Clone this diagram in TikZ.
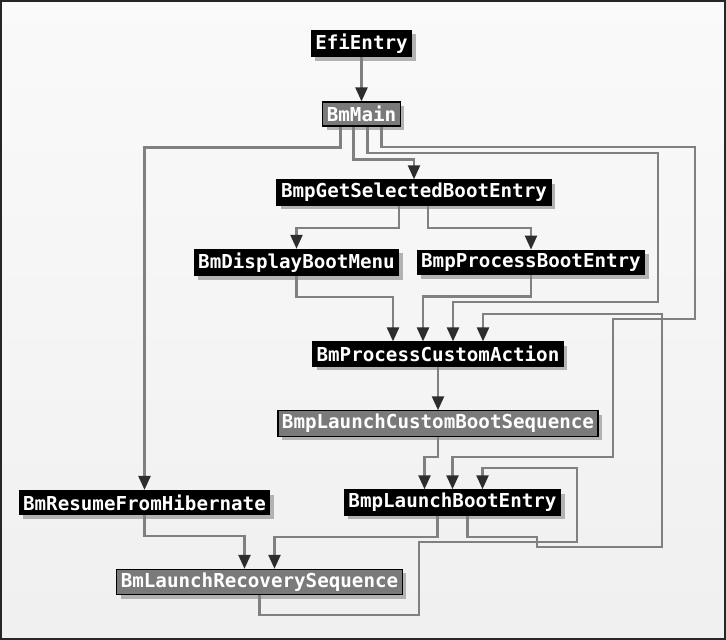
\documentclass[tikz,border=0pt]{standalone}
\usepackage{fontspec}
\newfontfamily\pixelfont{DejaVu Sans Mono}
\usepackage{tikz}
\usetikzlibrary{arrows.meta, shadows}

\definecolor{edgegray}{RGB}{128,128,128}
\definecolor{tipgray}{RGB}{45,45,45}
\definecolor{boxgray}{RGB}{122,122,122}

\begin{document}
\begin{tikzpicture}[
    x=1pt, y=-1pt,
    % Define node style
    func node/.style={
        draw=black, % Draw border
        line width=1.2pt,
        fill=black, % Black box
        text=white, % White text
        rectangle, % Rectangle shape
        minimum height=24pt, % Minimum height
        inner xsep=4pt,
        font=\pixelfont\bfseries\fontsize{19.2}{20}\selectfont,
        drop shadow={shadow xshift=4pt, shadow yshift=-4pt, fill=black!30, opacity=1}
      },
    % Gray box style
    gray node/.style={
        func node,
        fill=boxgray
      },
    % Define arrow style
    edge/.style={
        draw=edgegray,
        line width=2.4pt,
        -{Triangle[width=12pt, length=14pt, color=tipgray, fill=tipgray]}
      }
  ]

  % Background and frame
  \useasboundingbox (0,0) rectangle (726,640);
  \shade[top color=black!2, bottom color=black!6] (0,0) rectangle (726,640);
  \draw[black!85, line width=2.4pt] (1.2,1.2) rectangle (724.8,638.8);

  % Define nodes
  \node[func node] (EfiEntry) at (361.5,43.5) {EfiEntry};
  \node[gray node] (BmMain) at (361.5,114) {BmMain};
  \node[func node] (BmpGetSelectedBootEntry) at (414,192.5) {BmpGetSelectedBootEntry};
  \node[func node] (BmDisplayBootMenu) at (296.5,262.5) {BmDisplayBootMenu};
  \node[func node] (BmpProcessBootEntry) at (531,262.5) {BmpProcessBootEntry};
  \node[func node] (BmProcessCustomAction) at (438,354) {BmProcessCustomAction};
  \node[gray node] (BmpLaunchCustomBootSequence) at (438,423.5) {BmpLaunchCustomBootSequence};
  \node[func node] (BmResumeFromHibernate) at (144.5,502.5) {BmResumeFromHibernate};
  \node[func node] (BmpLaunchBootEntry) at (452.5,502.5) {BmpLaunchBootEntry};
  \node[gray node] (BmLaunchRecoverySequence) at (259.5,582) {BmLaunchRecoverySequence};

  % Draw arrows
  \draw[edge] (EfiEntry) -- (BmMain);

  % From BmMain
  \draw[edge] ([xshift=-21pt]BmMain.south) -- ++(0,21) -| (BmResumeFromHibernate.north);
  \draw[edge] ([xshift=-8pt]BmMain.south) -- ++(0,33) -| (BmpGetSelectedBootEntry.north);
  \draw[edge] ([xshift=6pt]BmMain.south) |- (658,153) -- (658,302) -| ([xshift=15pt]BmProcessCustomAction.north);
  \draw[edge] ([xshift=20pt]BmMain.south) |- (695,147) -- (695,319) -| (613,457) -| (BmpLaunchBootEntry.north);

  % From BmpGetSelectedBootEntry
  \draw[edge] ([xshift=-15pt]BmpGetSelectedBootEntry.south) -- ++(0,22) -| (BmDisplayBootMenu.north);
  \draw[edge] ([xshift=14pt]BmpGetSelectedBootEntry.south) -- ++(0,22) -| (BmpProcessBootEntry.north);

  % Into BmProcessCustomAction
  \draw[edge] (BmDisplayBootMenu.south) -- ++(0,21) -| ([xshift=-45pt]BmProcessCustomAction.north);
  \draw[edge] (BmpProcessBootEntry.south) -- ++(0,21) -| ([xshift=-15pt]BmProcessCustomAction.north);
  \draw[edge] (BmProcessCustomAction) -- (BmpLaunchCustomBootSequence);

  % Into BmpLaunchBootEntry
  \draw[edge] (BmpLaunchCustomBootSequence.south) -- ++(0,20) -| ([xshift=-28pt]BmpLaunchBootEntry.north);
  \draw[edge] ([xshift=15pt]BmpLaunchBootEntry.south) |- (537,537) |- (662,547) -- (662,314) -| ([xshift=45pt]BmProcessCustomAction.north);

  % Into BmLaunchRecoverySequence
  \draw[edge] ([xshift=-15pt]BmpLaunchBootEntry.south) -- ++(0,21) -| ([xshift=15pt]BmLaunchRecoverySequence.north);
  \draw[edge] (BmResumeFromHibernate.south) -- ++(0,21) -| ([xshift=-15pt]BmLaunchRecoverySequence.north);
  \draw[edge] (BmLaunchRecoverySequence.south) |- (419,615) |- (577,542) -- (577,468) -| ([xshift=30pt]BmpLaunchBootEntry.north);

\end{tikzpicture}
\end{document}
